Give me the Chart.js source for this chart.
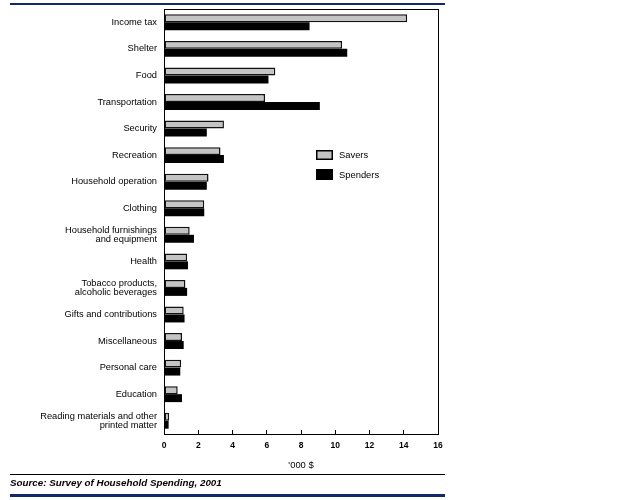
<!DOCTYPE html>
<html>
<head>
<meta charset="utf-8">
<script src="https://cdn.jsdelivr.net/npm/chart.js@4"></script>
<style>
  html, body { margin: 0; padding: 0; background: #fff; }
  #wrap { width: 631px; height: 500px; position: relative; }
</style>
</head>
<body>
<div id="wrap"><canvas id="spendingChart" width="631" height="500"></canvas></div>
<script>
// Average spending, savers vs spenders ('000 $)
const categories = [
    'Income tax',
    'Shelter',
    'Food',
    'Transportation',
    'Security',
    'Recreation',
    'Household operation',
    'Clothing',
    ['Household furnishings', 'and equipment'],
    'Health',
    ['Tobacco products,', 'alcoholic beverages'],
    'Gifts and contributions',
    'Miscellaneous',
    'Personal care',
    'Education',
    ['Reading materials and other', 'printed matter']
];
const savers = [14.2, 10.4, 6.5, 5.9, 3.5, 3.3, 2.6, 2.35, 1.5, 1.35, 1.25, 1.15, 1.05, 1.0, 0.8, 0.3];
const spenders = [8.5, 10.7, 6.1, 9.1, 2.5, 3.5, 2.5, 2.35, 1.75, 1.4, 1.35, 1.2, 1.15, 0.95, 1.05, 0.27];
const xTicks = [0, 2, 4, 6, 8, 10, 12, 14, 16];

const NAVY = '#13286b';
const FONT = '"Liberation Sans", Arial, sans-serif';

// frame around plot, legend, rules and source line
const decorPlugin = {
    id: 'decor',
    afterDraw(chart) {
        const ctx = chart.ctx;
        const a = chart.chartArea;
        ctx.save();
        // box around plot area
        ctx.strokeStyle = '#000';
        ctx.lineWidth = 1;
        ctx.strokeRect(a.left + 0.5, a.top + 0.5, a.right - a.left, a.bottom - a.top);

        // legend
        const lx = a.left + 152, ly = a.top + 141;
        ctx.fillStyle = '#c4c4c4';
        ctx.fillRect(lx, ly, 17, 10);
        ctx.strokeStyle = '#000';
        ctx.lineWidth = 1.5;
        ctx.strokeRect(lx + 0.75, ly + 0.75, 15.5, 8.5);
        ctx.fillStyle = '#000';
        ctx.fillRect(lx, ly + 19, 17, 11);
        ctx.font = '9.4px ' + FONT;
        ctx.textBaseline = 'middle';
        ctx.textAlign = 'left';
        ctx.fillText('Savers', lx + 23, ly + 5);
        ctx.fillText('Spenders', lx + 23, ly + 25);

        // top navy rule
        ctx.fillStyle = NAVY;
        ctx.fillRect(10, 3, 435, 2);
        // bottom black rule
        ctx.fillStyle = '#000';
        ctx.fillRect(10, 474, 435, 1);
        // source note
        ctx.font = 'italic bold 9.8px ' + FONT;
        ctx.fillText('Source: Survey of Household Spending, 2001', 10, 483);
        // bottom navy band
        ctx.fillStyle = NAVY;
        ctx.fillRect(10, 494, 435, 3);
        ctx.restore();
    }
};

new Chart(document.getElementById('spendingChart').getContext('2d'), {
    type: 'bar',
    data: {
        labels: categories,
        datasets: [{
            label: 'Savers',
            data: savers,
            backgroundColor: '#c4c4c4',
            borderColor: '#111',
            borderWidth: 1.5,
            borderSkipped: false,
            categoryPercentage: 0.6,
            barPercentage: 1.0
        }, {
            label: 'Spenders',
            data: spenders,
            backgroundColor: '#000',
            borderColor: '#000',
            borderWidth: 0,
            categoryPercentage: 0.6,
            barPercentage: 1.0
        }]
    },
    options: {
        indexAxis: 'y',
        responsive: false,
        animation: false,
        layout: { padding: { left: 0, right: 193, top: 9, bottom: 0 } },
        plugins: {
            legend: { display: false },
            tooltip: { enabled: false }
        },
        scales: {
            x: {
                min: 0,
                max: 16,
                afterFit(scale) {
                    scale.height = 66;
                    scale.paddingLeft = 0;
                    scale.paddingRight = 0;
                },
                afterBuildTicks(scale) { scale.ticks = xTicks.map(v => ({ value: v })); },
                grid: { drawOnChartArea: false, drawTicks: true, tickLength: -4, color: '#000' },
                border: { display: true, color: '#000', width: 1 },
                ticks: {
                    padding: 11,
                    color: '#000',
                    font: { family: FONT, size: 8.5, weight: 'bold' }
                },
                title: {
                    display: true,
                    text: "'000 $",
                    color: '#000',
                    font: { family: FONT, size: 9.4 },
                    padding: { top: 0, bottom: 29 }
                }
            },
            y: {
                afterFit(scale) {
                    scale.width = 164;
                    scale.paddingTop = 0;
                    scale.paddingBottom = 0;
                },
                grid: { display: false, drawTicks: false },
                border: { display: true, color: '#000', width: 1 },
                ticks: {
                    padding: 7,
                    color: '#000',
                    font: { family: FONT, size: 9.3, lineHeight: 1.0 }
                }
            }
        }
    },
    plugins: [decorPlugin]
});
</script>
</body>
</html>
